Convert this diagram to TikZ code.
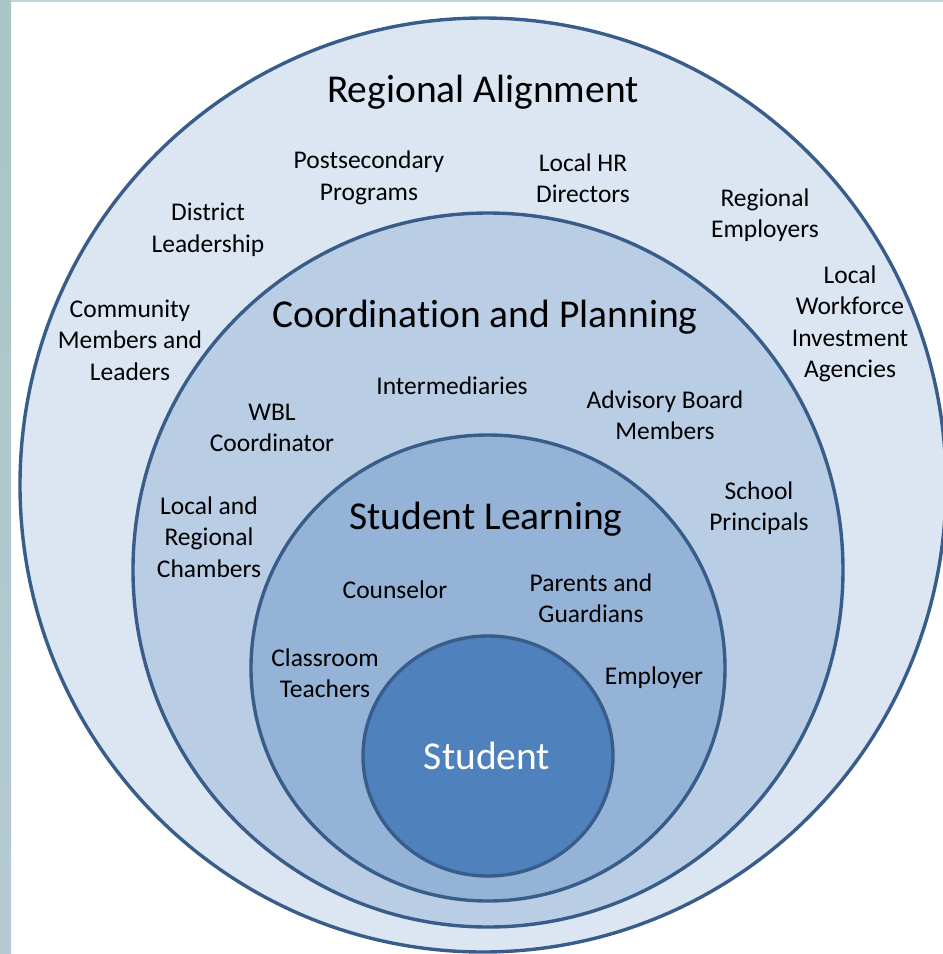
\documentclass[tikz,border=0pt]{standalone}
\usepackage{fontspec}
\setmainfont{Carlito}[Ligatures=NoCommon]
\usetikzlibrary{shapes.geometric}
\definecolor{outerfill}{HTML}{DCE6F2}
\definecolor{coordfill}{HTML}{B9CDE5}
\definecolor{slfill}{HTML}{95B3D7}
\definecolor{stufill}{HTML}{4F81BD}
\definecolor{ringline}{HTML}{385D8A}
\definecolor{stripA}{HTML}{A8C6C4}
\definecolor{stripB}{HTML}{B6CAD3}
\definecolor{topline}{HTML}{C3D3DA}
\tikzset{
  ring/.style={ellipse, draw=ringline, line width=3.4pt, inner sep=0pt},
  lbl/.style={align=center, text=black, font=\fontsize{25.5}{31.5}\selectfont, inner sep=0pt},
  ttl/.style={text=black, font=\fontsize{39.5}{44}\selectfont, inner sep=0pt},
}
\begin{document}
\begin{tikzpicture}[x=1pt,y=-1pt]
\useasboundingbox (0,0) rectangle (943,954);
\fill[white] (0,0) rectangle (943,954);
\shade[top color=stripA, bottom color=stripB] (0,0) rectangle (11,954);
\fill[topline] (11,0) rectangle (943,2);
% rings
\node[ring, fill=outerfill, minimum width=926pt, minimum height=934pt] (outer) at (483,485) {};
\node[ring, fill=coordfill, minimum width=710pt, minimum height=714pt] (coord) at (488,570) {};
\node[ring, fill=slfill, minimum width=474pt, minimum height=466pt] (learn) at (488,668) {};
\node[ring, fill=stufill, minimum width=250pt, minimum height=240pt] (stu) at (488,756) {};
% titles
\node[ttl] (tRA) at (483,92) {Regional Alignment};
\node[ttl] (tCP) at (485,317) {Coordination and Planning};
\node[ttl] (tSL) at (486,519) {Student Learning};
\node[ttl, text=white] (tS) at (487,756) {Student};
% outer ring labels
\node[lbl] (post) at (369,178) {Postsecondary\\Programs};
\node[lbl] (hr) at (583,178) {Local HR\\Directors};
\node[lbl] (dist) at (208,230) {District\\Leadership};
\node[lbl] (remp) at (765,215) {Regional\\Employers};
\node[lbl] (comm) at (130,340) {Community\\Members and\\Leaders};
\node[lbl] (lwia) at (850,324) {Local\\Workforce\\Investment\\Agencies};
% coordination labels
\node[lbl] (inter) at (452,386) {Intermediaries};
\node[lbl] (wbl) at (272,428) {WBL\\Coordinator};
\node[lbl] (adv) at (665,415) {Advisory Board\\Members};
\node[lbl] (cham) at (209,537) {Local and\\Regional\\Chambers};
\node[lbl] (prin) at (759,508) {School\\Principals};
% student learning labels
\node[lbl] (coun) at (395,590) {Counselor};
\node[lbl] (par) at (591,598) {Parents and\\Guardians};
\node[lbl] (teach) at (325,673) {Classroom\\Teachers};
\node[lbl] (emp) at (654,678) {Employer};
\end{tikzpicture}
\end{document}
